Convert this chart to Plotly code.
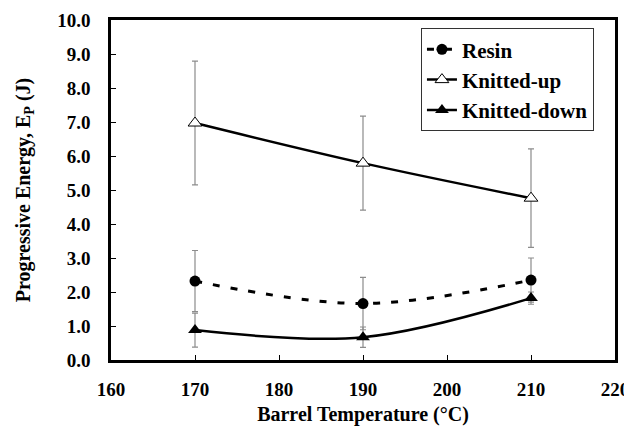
import plotly.graph_objects as go

temps = [170, 190, 210]
resin = [2.32, 1.66, 2.35]
resin_err = [0.9, 0.77, 0.65]
k_up = [6.97, 5.79, 4.76]
k_up_err = [1.82, 1.38, 1.45]
k_down = [0.88, 0.67, 1.82]
k_down_err = [0.5, 0.3, 0.18]

font = "Liberation Serif"
ecol = "#8c8c8c"

fig = go.Figure()
fig.add_trace(go.Scatter(
    x=temps, y=resin, name="Resin", mode="lines+markers",
    line=dict(color="black", width=3, dash="7px,11px", shape="spline"),
    marker=dict(symbol="circle", size=11, color="black"),
    error_y=dict(type="data", array=resin_err, color=ecol, thickness=1.2, width=3)))
fig.add_trace(go.Scatter(
    x=temps, y=k_up, name="Knitted-up", mode="lines+markers",
    line=dict(color="black", width=2.5, shape="spline"),
    marker=dict(symbol="triangle-up", size=12, color="white", line=dict(color="black", width=1)),
    error_y=dict(type="data", array=k_up_err, color=ecol, thickness=1.2, width=3)))
fig.add_trace(go.Scatter(
    x=temps, y=k_down, name="Knitted-down", mode="lines+markers",
    line=dict(color="black", width=2.5, shape="spline"),
    marker=dict(symbol="triangle-up", size=12, color="black"),
    error_y=dict(type="data", array=k_down_err, color=ecol, thickness=1.2, width=3)))

fig.update_layout(
    width=624, height=418,
    margin=dict(l=103, r=17, t=12, b=66),
    plot_bgcolor="white", paper_bgcolor="white",
    font=dict(family=font, color="black"),
    showlegend=True,
    legend=dict(x=0.615, y=0.976, xanchor="left", yanchor="top",
                bgcolor="white", bordercolor="#333", borderwidth=1,
                font=dict(size=21, family=font, color="black", weight="bold"),
                tracegroupgap=0, itemwidth=30),
    xaxis=dict(range=[160, 220], tickvals=[160, 170, 180, 190, 200, 210, 220],
               ticks="inside", ticklen=5, tickcolor="black",
               showline=True, linecolor="black", linewidth=2.5, mirror=True,
               showgrid=False, zeroline=False, automargin=False,
               tickfont=dict(size=19, family=font, weight="bold"),
               ticklabelstandoff=10,
               title=dict(text="Barrel Temperature (°C)",
                          font=dict(size=20, family=font, weight="bold"), standoff=18)),
    yaxis=dict(range=[0, 10], dtick=1, tickformat=".1f",
               ticks="inside", ticklen=5, tickcolor="black",
               showline=True, linecolor="black", linewidth=2.5, mirror=True,
               showgrid=False, zeroline=False, automargin=False,
               tickfont=dict(size=19, family=font, weight="bold"),
               ticklabelstandoff=14,
               title=dict(text="Progressive Energy, E<sub>P</sub> (J)",
                          font=dict(size=20, family=font, weight="bold"), standoff=22)),
)

fig.write_html("out.html")
